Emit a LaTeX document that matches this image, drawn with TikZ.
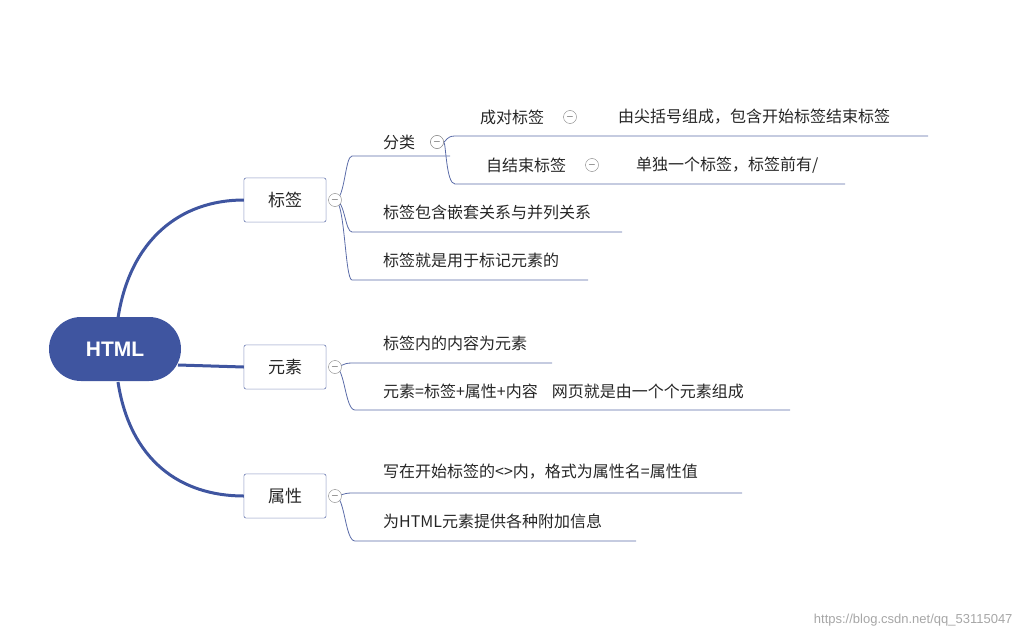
\documentclass[tikz,border=0pt]{standalone}
\usepackage{fontspec}
\setmainfont{Liberation Sans}
\newfontfamily\cjk{Noto Sans CJK SC}
\definecolor{mainblue}{HTML}{3F55A0}
\definecolor{linec}{HTML}{5A6BA8}
\begin{document}
\begin{tikzpicture}[x=1pt,y=-1pt,
  txt/.style={anchor=west,inner sep=0pt,font=\cjk\fontsize{16}{18}\selectfont,text=black!85},
  box/.style={draw=linec,fill=white,rounded corners=2pt,minimum width=82pt,minimum height=44pt,font=\cjk\fontsize{17}{19}\selectfont,text=black!85},
  tog/.style={circle,draw=gray,fill=white,minimum size=13pt,inner sep=0pt},
  ln/.style={draw=linec,line width=0.8pt},
  thick/.style={draw=mainblue,line width=3pt}]
\useasboundingbox (0,0) rectangle (1024,639);
% thick connectors
\node[fill=mainblue,rounded corners=32pt,minimum width=132pt,minimum height=64pt,text=white,font=\bfseries\fontsize{21}{24}\selectfont] (root) at (115,349) {HTML};
\node[box] (b1) at (285,200) {标签};
\node[box] (b2) at (285,367) {元素};
\node[box] (b3) at (285,496) {属性};
\draw[thick] (118,318) .. controls (130,240) and (180,200) .. (b1.west);
\draw[thick] (178,365) -- (b2.west);
\draw[thick] (118,382) .. controls (130,460) and (180,496) .. (b3.west);
\node[box] at (285,200) {标签};
\node[box] at (285,367) {元素};
\node[box] at (285,496) {属性};
% 标签 children
\coordinate (c1) at (335,200);
\coordinate (u1) at (352,156);
\coordinate (u2) at (352,232);
\coordinate (u3) at (352,280);
\draw[ln] (c1) .. controls (345,200) and (345,156) .. (u1) -- (450,156);
\draw[ln] (c1) .. controls (345,200) and (345,232) .. (u2) -- (622,232);
\draw[ln] (c1) .. controls (345,200) and (345,280) .. (u3) -- (588,280);
\node[tog] (t1) at (c1) {$-$};
\node[txt] (n11) at (383,142) {分类};
\node[tog] (t11) at (437,142) {$-$};
\coordinate (u11) at (455,136);
\coordinate (u12) at (455,184);
\draw[ln] (t11.east) .. controls (446,142) and (446,136) .. (u11) -- (928,136);
\draw[ln] (t11.east) .. controls (446,142) and (446,184) .. (u12) -- (845,184);
\node[tog] at (437,142) {$-$};
\node[txt] (n111) at (480,117) {成对标签};
\node[tog] (t111) at (570,117) {$-$};
\node[txt] (n1111) at (618,117) {由尖括号组成，包含开始标签结束标签};
\node[txt] (n112) at (486,165) {自结束标签};
\node[tog] (t112) at (592,165) {$-$};
\node[txt] (n1121) at (636,165) {单独一个标签，标签前有/};
\node[txt] (n12) at (383,212) {标签包含嵌套关系与并列关系};
\node[txt] (n13) at (383,260) {标签就是用于标记元素的};
% 元素 children
\coordinate (c2) at (335,367);
\draw[ln] (c2) .. controls (342,367) and (342,363) .. (352,363) -- (552,363);
\draw[ln] (c2) .. controls (345,367) and (345,410) .. (355,410) -- (790,410);
\node[tog] at (c2) {$-$};
\node[txt] (n21) at (383,343) {标签内的内容为元素};
\node[txt] (n22) at (383,391) {元素=标签+属性+内容\hspace{14pt}网页就是由一个个元素组成};
% 属性 children
\coordinate (c3) at (335,496);
\draw[ln] (c3) .. controls (342,496) and (342,493) .. (352,493) -- (742,493);
\draw[ln] (c3) .. controls (345,496) and (345,541) .. (355,541) -- (636,541);
\node[tog] at (c3) {$-$};
\node[txt] (n31) at (383,472) {写在开始标签的<>内，格式为属性名=属性值};
\node[txt] (n32) at (383,521) {为HTML元素提供各种附加信息};
\node[anchor=east,text=gray!70,font=\fontsize{13}{15}\selectfont] (wm) at (1016,620) {https://blog.csdn.net/qq\_53115047};
\end{tikzpicture}
\end{document}
